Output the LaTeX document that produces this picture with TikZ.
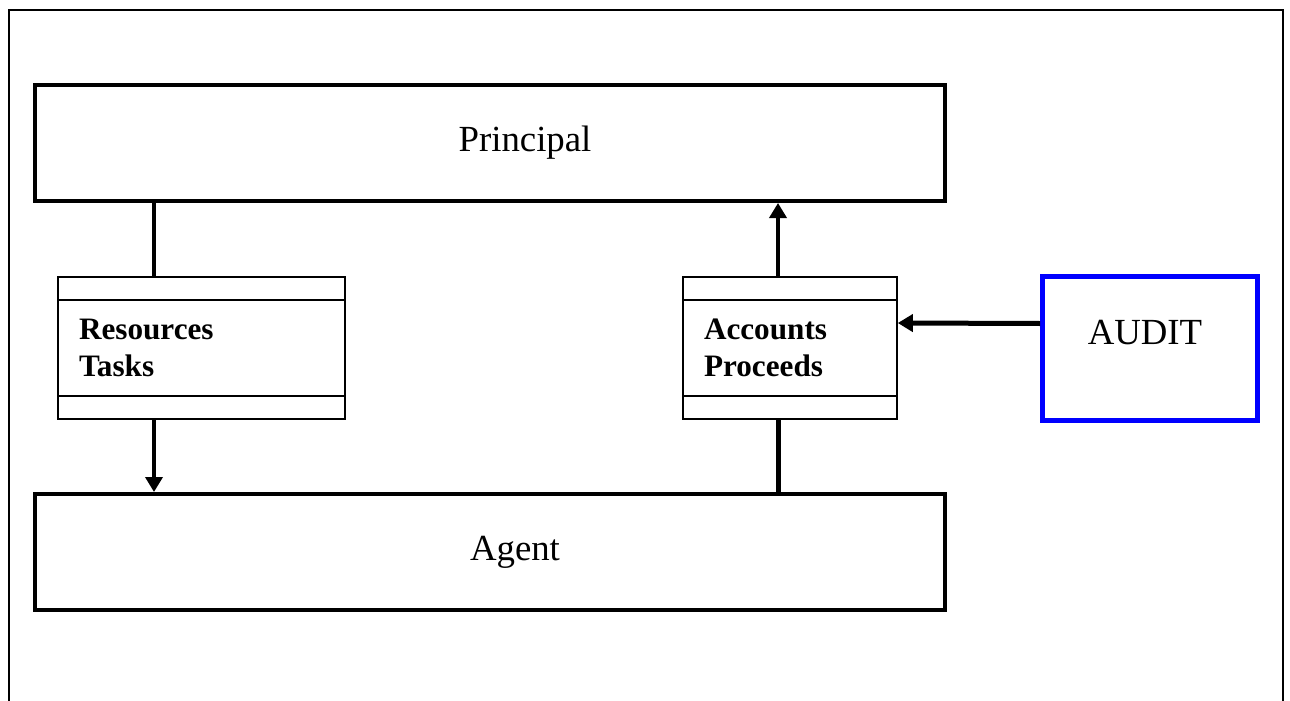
\documentclass[tikz,border=0pt]{standalone}
\usepackage{fontspec}
\setmainfont{Liberation Serif}
\usetikzlibrary{arrows.meta, positioning, calc}
\definecolor{auditblue}{RGB}{0,0,255}

\begin{document}
\begin{tikzpicture}[
  x=0.5pt, y=-0.5pt,
  party/.style={draw, line width=2pt, minimum width=455pt, minimum height=58pt, inner sep=0pt, font=\fontsize{18.4}{22}\selectfont},
  ledger/.style={draw, line width=0.8pt, minimum height=71pt, inner xsep=10.5pt, inner ysep=0pt, align=left, font=\fontsize{15.6}{18.5}\selectfont\bfseries},
  auditbox/.style={draw=auditblue, line width=2.5pt, minimum width=107.5pt, inner sep=0pt, text height=34pt, text depth=38pt, font=\fontsize{18.4}{22}\selectfont},
  link/.style={line width=1.8pt},
  flow/.style={-{Triangle[length=7.5pt, width=8.5pt]}, line width=1.8pt},
  frame/.style={line width=1pt}
]
\useasboundingbox (0,0) rectangle (1290,701);

% outer frame
\draw[frame] (9,701) |- (1283,10) -- (1283,701);

% principal and agent
\node[party] (principal) at (490,143) {\hspace*{35pt}Principal};
\node[party] (agent) at (490,552) {\hspace*{25pt}Agent};

% ledgers
\node[ledger, text width=122.5pt] (res) at (201.5,348) {Resources\\Tasks};
\node[ledger, text width=86pt] (acc) at (790,348) {Accounts\\Proceeds};
\node[auditbox] (audit) at (1150,348.5) {AUDIT\hspace*{5pt}};

\foreach \b in {res, acc} {
  \draw[line width=0.8pt] ([yshift=-12pt]\b.north west) -- ([yshift=-12pt]\b.north east);
  \draw[line width=0.8pt] ([yshift=12pt]\b.south west) -- ([yshift=12pt]\b.south east);
}

\coordinate (rx) at ([xshift=-23.75pt]res.center);
\coordinate (ax) at ([xshift=-6pt]acc.center);

\draw[link] (rx |- principal.south) -- (rx |- res.north);
\draw[flow] (rx |- res.south) -- (rx |- agent.north);
\draw[flow] (ax |- acc.north) -- (ax |- principal.south);
\draw[link, line width=2.5pt] (ax |- agent.north) -- (ax |- acc.south);
\draw[flow, line width=2.5pt] ([yshift=12.5pt]audit.west) -- ([yshift=12.5pt]acc.east);

\end{tikzpicture}
\end{document}
